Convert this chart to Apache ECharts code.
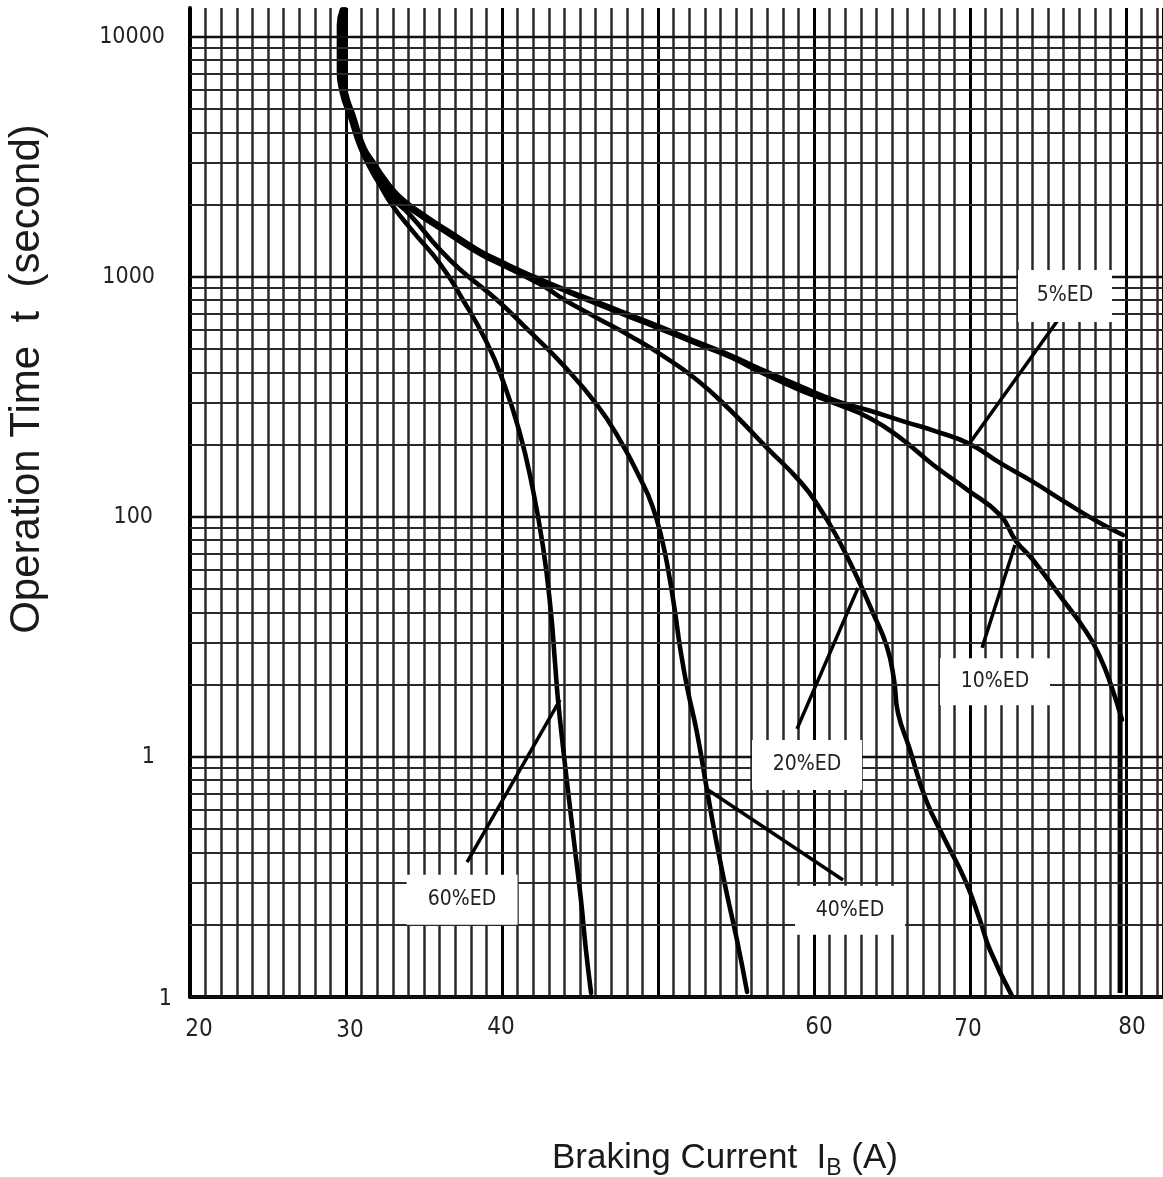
<!DOCTYPE html>
<html>
<head>
<meta charset="utf-8">
<script src="https://cdn.jsdelivr.net/npm/echarts@6/dist/echarts.min.js"></script>
<style>
  html, body { margin: 0; padding: 0; background: #fff; }
  #chart { width: 1163px; height: 1177px; }
</style>
</head>
<body>
<div id="chart"></div>
<script>
// Permissible operation time t (s) against braking current I_B (A), per duty cycle (%ED)
const ed5 = [
  [30.0, 13000], [29.81, 11220], [29.81, 7499], [30.0, 5843], [30.51, 4642], [31.15, 3481],
  [31.80, 2985], [32.44, 2585], [33.33, 2196], [34.62, 1884], [36.67, 1540], [38.59, 1283],
  [40.0, 1155], [41.80, 1019], [43.91, 891], [46.09, 787], [48.21, 695], [50.32, 613],
  [52.5, 536], [54.62, 473], [56.54, 414], [59.10, 351], [61.47, 304], [63.59, 277],
  [65.83, 249], [67.76, 228], [69.94, 202], [71.92, 168], [74.04, 140], [76.22, 114],
  [78.33, 94.4], [79.81, 84.1]
];
const ed5Limit = [[79.62, 80.2], [79.62, 1.04]];

const ed10 = [
  [29.94, 13000], [29.74, 11220], [29.74, 7499], [29.94, 5843], [30.45, 4642], [31.09, 3481],
  [31.73, 2957], [32.37, 2561], [33.27, 2175], [34.55, 1866], [36.67, 1525], [38.59, 1271],
  [40.0, 1144], [41.80, 1010], [43.91, 883], [46.09, 772], [48.21, 681], [50.32, 601],
  [52.5, 526], [54.62, 464], [56.54, 402], [59.10, 338], [61.47, 295], [63.59, 258],
  [65.51, 214], [67.63, 165], [69.81, 130], [71.92, 102], [72.95, 79.4], [74.04, 66.2],
  [75.96, 45.1], [77.37, 33.8], [78.33, 26.1], [79.10, 19.4], [79.74, 14.3]
];

const ed20 = [
  [29.87, 13000], [29.68, 11220], [29.68, 7499], [29.87, 5843], [30.38, 4642], [31.03, 3481],
  [31.67, 2929], [32.31, 2537], [33.21, 2154], [34.49, 1848], [36.67, 1496], [38.59, 1247],
  [40.0, 1122], [41.80, 981], [42.76, 908], [43.91, 810], [46.09, 675], [48.21, 568],
  [50.32, 469], [52.5, 372], [54.62, 279], [56.92, 196], [59.17, 139], [60.32, 110],
  [61.47, 82.5], [62.63, 58.4], [63.78, 39.8], [64.68, 28.7], [65.13, 20.9], [65.38, 15.3],
  [66.09, 11.0], [67.18, 6.62], [68.40, 4.51], [69.68, 3.07], [70.64, 2.09], [71.28, 1.57],
  [72.69, 1.01]
];

const ed40 = [
  [29.81, 13000], [29.62, 11220], [29.62, 7499], [29.81, 5843], [30.32, 4642], [30.96, 3481],
  [31.60, 2873], [32.24, 2465], [32.95, 2134], [34.10, 1813], [36.03, 1296], [37.5, 1049],
  [39.68, 802], [41.80, 590], [43.91, 430], [46.09, 293], [47.56, 209], [48.85, 145],
  [49.62, 112], [50.26, 80.2], [50.71, 57.3], [51.09, 40.2], [51.41, 28.7], [51.86, 19.6],
  [52.5, 12.6], [53.14, 7.29], [53.72, 4.51], [54.36, 2.79], [55.06, 1.73], [55.71, 1.05]
];

const ed60 = [
  [29.74, 13000], [29.55, 11220], [29.55, 7499], [29.74, 5843], [30.26, 4642], [30.90, 3481],
  [31.54, 2846], [32.18, 2417], [32.95, 1995], [34.30, 1545], [36.03, 1133], [37.5, 802],
  [39.04, 531], [40.06, 369], [41.09, 230], [41.92, 136], [42.63, 75.0], [43.14, 39.8],
  [43.40, 24.6], [43.59, 17.3], [43.91, 11.0], [44.30, 6.62], [44.68, 4.10], [45.06, 2.54],
  [45.38, 1.57], [45.71, 1.04]
];

// Tick labels
const xTickValues = [20, 30, 40, 60, 70, 80];
const xTickLabels = ['20', '30', '40', '60', '70', '80'];
const yTickValues = [1, 10, 100, 1000, 10000];
const yTickLabels = ['1', '1', '100', '1000', '10000'];

// Curve call-outs: caption, caption box centre, leader line ends
const calloutNames = ['5%ED', '10%ED', '20%ED', '40%ED', '60%ED'];
const calloutBox = [[76.09, 833], [71.6, 20.6], [59.55, 9.26], [62.31, 2.30], [37.44, 2.54]];
const leaderFrom = [[75.64, 662], [70.77, 28.5], [58.91, 13.1], [53.21, 7.29], [37.76, 3.65]];
const leaderTo = [[69.94, 201.5], [72.88, 76.4], [62.82, 50.6], [61.86, 3.07], [43.72, 17.3]];

// ---- layout / style ----
const X_MIN = 20, X_MAX = 82.37, Y_MIN = 1, Y_MAX = 13200;
const boxSizes = [[94, 52], [110, 47], [110, 50], [110, 49], [111, 50]];
const narrow = '"Liberation Sans Narrow", "Arial Narrow", "DejaVu Sans Condensed", sans-serif';
const sans = '"Liberation Sans", Arial, Helvetica, sans-serif';

// log-paper horizontal rulings: decades plus 2..9 within each decade
const hLines = [];
for (let k = 0; k <= 4; k++) {
  const base = Math.pow(10, k);
  hLines.push({ yAxis: base, lineStyle: { color: '#111', width: 2.4, type: 'solid' } });
  for (let m = 2; m <= 9; m++) {
    const v = m * base;
    if (v < Y_MAX) hLines.push({ yAxis: v, lineStyle: { color: '#2a2a2a', width: 2.2, type: 'solid' } });
  }
}

// per-label nudges for the axis numbers
const xRich = {
  l20: { padding: [4, 0, 0, 18] },
  l30: { padding: [6, 0, 0, 8] },
  l40: { padding: [0, 2, 0, 0] },
  l60: { padding: [0, 0, 0, 10] },
  l70: { padding: [5, 4, 0, 0] },
  l80: { padding: [1, 0, 0, 12] }
};
const yRich = {
  t0: { padding: [4, 0, 0, 0] },
  t1: { padding: [0, 17, 0, 0] },
  t2: { padding: [0, 19, 0, 0] },
  t3: { padding: [0, 17, 0, 0] },
  t4: { padding: [0, 7, 0, 0] }
};

const curveStyle = { color: '#000', width: 4.6, cap: 'round', join: 'round' };
function curve(name, data) {
  return {
    name, type: 'line', data, xAxisIndex: 0, yAxisIndex: 0,
    symbol: 'none', smooth: 0.5, lineStyle: curveStyle, z: 3,
    silent: true
  };
}

const chart = echarts.init(document.getElementById('chart'), null, { renderer: 'canvas' });

chart.setOption({
  animation: false,
  backgroundColor: '#fff',
  grid: { left: 190, right: 0, top: 8, bottom: 180, containLabel: false, outerBoundsMode: 'none' },
  xAxis: [
    {
      type: 'value', min: X_MIN, max: X_MAX, interval: 1, position: 'bottom',
      axisLine: { show: false }, axisTick: { show: false }, axisLabel: { show: false },
      splitLine: { show: true, lineStyle: { color: '#2a2a2a', width: 2.5 } }
    },
    {
      type: 'value', min: X_MIN, max: X_MAX, interval: 10, position: 'bottom',
      axisLine: { show: true, onZero: false, lineStyle: { color: '#000', width: 4 } },
      axisTick: { show: false },
      splitLine: { show: true, lineStyle: { color: '#000', width: 3 } },
      axisLabel: {
        show: true, margin: 18, fontSize: 24, lineHeight: 25, color: '#222',
        fontFamily: narrow, verticalAlign: 'top', rich: xRich,
        formatter: (v) => {
          const i = xTickValues.indexOf(Math.round(v));
          if (i < 0 || Math.abs(v - xTickValues[i]) > 1e-6) return '';
          return '{l' + xTickValues[i] + '|' + xTickLabels[i] + '}';
        }
      }
    }
  ],
  yAxis: {
    type: 'log', logBase: 10, min: Y_MIN, max: Y_MAX,
    axisLine: { show: true, lineStyle: { color: '#000', width: 4 } },
    axisTick: { show: false },
    splitLine: { show: false },
    axisLabel: {
      show: true, margin: 18, fontSize: 23, color: '#222', fontFamily: narrow,
      rich: yRich,
      formatter: (v) => {
        const i = yTickValues.findIndex(t => Math.abs(t - v) / t < 1e-6);
        if (i < 0) return '';
        return '{t' + i + '|' + yTickLabels[i] + '}';
      }
    }
  },
  graphic: [
    {
      type: 'text', x: 27, y: 379, rotation: Math.PI / 2, silent: true,
      style: {
        text: 'Operation Time  t  (second)', fontSize: 42, fontFamily: sans,
        fill: '#1a1a1a', align: 'center', verticalAlign: 'middle'
      }
    },
    {
      type: 'text', x: 725, y: 1158, silent: true,
      style: {
        text: '{m|Braking Current  I}{s|B}{m| (A)}',
        fill: '#1a1a1a', align: 'center', verticalAlign: 'middle',
        rich: {
          m: { fontSize: 35, fontFamily: sans, lineHeight: 44, verticalAlign: 'middle', fill: '#1a1a1a' },
          s: { fontSize: 23, fontFamily: sans, lineHeight: 24, verticalAlign: 'bottom', fill: '#1a1a1a' }
        }
      }
    }
  ],
  series: [
    {
      name: 'rulings', type: 'line', data: [], z: 1, silent: true,
      markLine: {
        silent: true, symbol: ['none', 'none'], animation: false,
        label: { show: false }, emphasis: { disabled: true },
        data: hLines
      }
    },
    curve('60%ED', ed60),
    curve('40%ED', ed40),
    curve('20%ED', ed20),
    curve('10%ED', ed10),
    curve('5%ED', ed5),
    {
      name: '5%ED limit', type: 'line', data: ed5Limit, symbol: 'none', smooth: false,
      lineStyle: { color: '#000', width: 5 }, z: 3, silent: true
    },
    {
      name: 'leaders', type: 'line', data: [], z: 4, silent: true,
      markLine: {
        silent: true, symbol: ['none', 'none'], animation: false,
        label: { show: false }, emphasis: { disabled: true },
        lineStyle: { color: '#000', width: 3.5, type: 'solid' },
        data: leaderFrom.map((p, i) => [{ coord: p }, { coord: leaderTo[i] }])
      }
    },
    {
      name: 'captions', type: 'scatter', z: 5, silent: true,
      data: calloutBox.map((p, i) => [p[0], p[1], calloutNames[i]]),
      symbol: 'rect',
      symbolSize: (v, p) => boxSizes[p.dataIndex],
      itemStyle: { color: '#fff', opacity: 1 },
      label: {
        show: true, position: 'inside', color: '#222', fontSize: 21, fontFamily: narrow,
        formatter: (p) => p.value[2]
      }
    }
  ]
});
</script>
</body>
</html>
